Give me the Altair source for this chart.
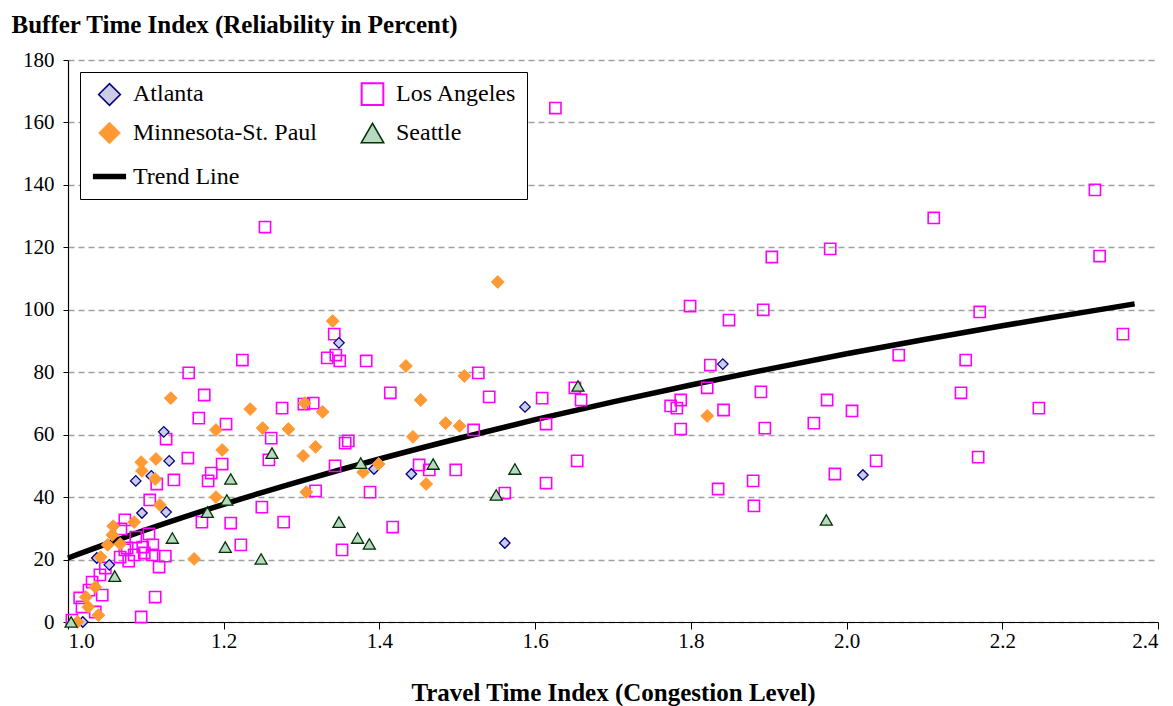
import altair as alt
import pandas as pd

# ---------------- data ----------------
la_x = [1.626, 1.253, 2.319, 2.112, 2.325, 1.979, 1.904, 1.799, 1.893, 2.171, 2.355, 1.849,
        1.342, 2.067, 1.825, 2.153, 1.224, 1.333, 1.344, 1.349, 1.383, 1.155, 1.527, 1.651,
        1.821, 1.175, 1.414, 1.890, 2.147, 1.541, 1.609, 1.659, 1.787, 1.975, 1.774, 1.782,
        1.275, 1.303, 1.315, 1.842, 2.007, 2.247, 1.168, 1.203, 1.614, 1.958, 1.787, 1.895,
        1.521, 1.126, 1.261, 1.356, 1.360, 1.154, 1.258, 2.038, 1.654, 2.169, 1.198, 1.343,
        1.451, 1.464, 1.498, 1.184, 1.985, 1.180, 1.114, 1.136, 1.880, 1.614, 1.835, 1.318,
        1.388, 1.561, 1.105, 1.881, 1.249, 1.073, 1.172, 1.209, 1.277, 1.417, 1.068, 1.087,
        1.104, 1.109, 1.222, 1.352,
        1.076, 1.096, 1.098, 1.085, 1.108, 1.125, 1.067, 1.078, 1.117, 1.048, 1.041, 1.031,
        1.027, 1.044, 1.015, 1.018, 1.035, 1.005, 1.112, 1.094, 1.073]
la_y = [164.6, 126.5, 138.4, 129.4, 117.2, 119.5, 116.9, 101.2, 100.0, 99.3, 92.2, 96.7,
        92.2, 85.5, 82.3, 83.9, 83.9, 84.6, 85.5, 83.6, 83.6, 79.8, 79.8, 75.0,
        75.0, 72.7, 73.4, 73.7, 73.4, 72.1, 71.7, 71.1, 71.1, 71.1, 69.2, 68.5,
        68.5, 69.8, 70.1, 67.9, 67.6, 68.5, 65.3, 63.4, 63.4, 63.7, 61.8, 62.1,
        61.5, 58.6, 58.9, 57.3, 58.0, 52.5, 51.9, 51.6, 51.6, 52.8, 50.6, 50.0,
        50.3, 48.7, 48.7, 47.7, 47.4, 45.2, 44.2, 45.5, 45.2, 44.5, 42.6, 42.0,
        41.6, 41.3, 39.1, 37.2, 36.8, 32.7, 32.0, 31.7, 32.0, 30.4, 29.8, 27.2,
        28.2, 24.7, 24.7, 23.1,
        23.7, 24.0, 22.1, 21.5, 21.5, 21.1, 20.8, 19.5, 17.6, 17.3, 15.1, 12.8,
        10.2, 8.6, 7.7, 4.8, 3.2, 0.6, 8.0, 1.6, 23.1]

atl_x = [1.123, 1.130, 1.107, 1.087, 1.095, 1.126, 1.037, 1.053, 1.019, 1.348, 1.393,
         1.441, 1.587, 1.561, 1.841, 2.021]
atl_y = [60.9, 51.6, 46.8, 45.2, 34.9, 35.2, 20.5, 18.3, 0.0, 89.4, 49.0,
         47.4, 68.9, 25.3, 82.6, 47.1]

msp_x = [1.132, 1.234, 1.190, 1.198, 1.113, 1.094, 1.095, 1.112, 1.118, 1.085, 1.058,
         1.057, 1.051, 1.067, 1.042, 1.035, 1.023, 1.026, 1.039, 1.012, 1.162, 1.190,
         1.340, 1.250, 1.283, 1.304, 1.327, 1.318, 1.302, 1.306, 1.399, 1.379, 1.443,
         1.453, 1.434, 1.509, 1.552, 1.485, 1.503, 1.460, 1.821]
msp_y = [71.7, 68.2, 61.5, 55.1, 52.2, 51.2, 48.4, 45.8, 37.5, 32.0, 30.7,
         27.9, 24.7, 25.0, 20.8, 11.2, 8.0, 4.8, 2.2, 0.0, 20.2, 40.0,
         96.4, 62.1, 61.8, 70.1, 67.3, 56.1, 53.2, 41.6, 50.6, 48.0, 59.3,
         71.1, 82.0, 78.8, 108.9, 63.7, 62.8, 44.2, 66.0]

sea_x = [1.004, 1.060, 1.134, 1.179, 1.204, 1.209, 1.202, 1.248, 1.262, 1.348, 1.372,
         1.387, 1.376, 1.469, 1.550, 1.574, 1.655, 1.974]
sea_y = [0.0, 14.7, 26.9, 35.2, 39.1, 45.8, 24.0, 20.2, 54.1, 32.0, 26.9,
         25.0, 50.9, 50.6, 40.7, 49.0, 75.6, 32.7]

trend_x = [1.0, 1.1, 1.2, 1.3, 1.4, 1.5, 1.6, 1.7, 1.8, 1.9, 2.0, 2.1, 2.2, 2.3, 2.37]
trend_y = [20.5, 29.5, 37.7, 45.2, 52.2, 58.7, 64.8, 70.5, 75.9, 81.0, 85.9, 90.5, 94.9, 99.0, 101.9]

x_ticks = [1.0, 1.2, 1.4, 1.6, 1.8, 2.0, 2.2, 2.4]
y_ticks = [0, 20, 40, 60, 80, 100, 120, 140, 160, 180]

# legend order (legend fills column by column: col1 = first three)
cities = ["Atlanta", "Minnesota-St. Paul", "Trend Line", "Los Angeles", "Seattle"]
shapes = ["diamond", "diamond", "stroke", "square", "triangle-up"]
fills = ["#CCCCE6", "#FF9933", "#000000", "transparent", "#B8D8C4"]
strokes = ["#000080", "#FF9933", "#000000", "#FF00FF", "#003300"]
legend_sizes = [470, 470, 1100, 470, 500]
legend_widths = [1.6, 1.0, 5.5, 2.0, 1.6]

# per-series marker size / stroke width in the plot (draw order)
series = [
    ("Los Angeles", la_x, la_y, 125, 1.6),
    ("Atlanta", atl_x, atl_y, 110, 1.3),
    ("Minnesota-St. Paul", msp_x, msp_y, 165, 1.0),
    ("Seattle", sea_x, sea_y, 145, 1.3),
]

FONT = "Liberation Serif"

xscale = alt.Scale(domain=[1.0, 2.4], nice=False, zero=False)
yscale = alt.Scale(domain=[0, 180], nice=False)

xaxis = alt.Axis(values=x_ticks, format=".1f", title="Travel Time Index (Congestion Level)",
                 grid=False, tickSize=7, labelPadding=1, titlePadding=29,
                 labelFontSize=21, titleFontSize=25)
yaxis = alt.Axis(values=y_ticks, title="Buffer Time Index (Reliability in Percent)",
                 grid=True, gridDash=[6, 4], gridColor="#A0A0A0", gridWidth=1.5,
                 tickSize=5, labelPadding=9, labelFontSize=21, titleFontSize=25,
                 titleAngle=0, titleAlign="left", titleBaseline="middle",
                 titleX=-57, titleY=-36)

X = alt.X("TTI:Q", scale=xscale, axis=xaxis)
Y = alt.Y("BTI:Q", scale=yscale, axis=yaxis)

shape_enc = alt.Shape("City:N", scale=alt.Scale(domain=cities, range=shapes), title=None)
fill_enc = alt.Fill("City:N", scale=alt.Scale(domain=cities, range=fills), title=None)
stroke_enc = alt.Stroke("City:N", scale=alt.Scale(domain=cities, range=strokes), title=None)

# ---------------- frames ----------------
rows = []
for name, xs, ys, _, _ in series:
    for a, b in zip(xs, ys):
        rows.append({"City": name, "TTI": a, "BTI": b})
pts = pd.DataFrame(rows)
trend = pd.DataFrame({"TTI": trend_x, "BTI": trend_y})

line = alt.Chart(trend).mark_line(color="black", strokeWidth=5.5, interpolate="monotone").encode(
    x=X, y=Y)

layers = [line]
for name, _, _, sz, sw in series:
    layers.append(
        alt.Chart(pts).transform_filter(alt.datum.City == name)
        .mark_point(filled=True, opacity=1, size=sz, strokeWidth=sw)
        .encode(x=X, y=Y, shape=shape_enc, fill=fill_enc, stroke=stroke_enc)
    )

# legend-only layer (no rows survive the filter): supplies legend symbol sizes/widths
legend_layer = alt.Chart(pts).transform_filter(alt.datum.BTI < -1000).mark_point(
    filled=True, opacity=1).encode(
    x=X, y=Y, shape=shape_enc, fill=fill_enc, stroke=stroke_enc,
    size=alt.Size("City:N", scale=alt.Scale(type="ordinal", domain=cities, range=legend_sizes), title=None),
    strokeWidth=alt.StrokeWidth("City:N", scale=alt.Scale(type="ordinal", domain=cities, range=legend_widths), title=None),
)
layers.append(legend_layer)

chart = alt.layer(*layers).properties(
    width=1090, height=562,
    autosize=alt.AutoSizeParams(type="none"),
    padding={"left": 68, "top": 60, "right": 15, "bottom": 84},
).configure_view(stroke=None).configure_axis(
    labelFont=FONT, titleFont=FONT, labelColor="black", titleColor="black",
    domainColor="black", tickColor="black", domainWidth=1.2, titleFontWeight="bold",
).configure_legend(
    orient="none", legendX=12, legendY=12, columns=2,
    labelFont=FONT, labelFontSize=24, labelColor="black", labelOffset=4, labelLimit=400,
    padding=10, rowPadding=11, columnPadding=36,
    strokeColor="black", fillColor="white", symbolOpacity=1,
)

chart.save("out.html", embed_options={"renderer": "svg", "actions": False})
